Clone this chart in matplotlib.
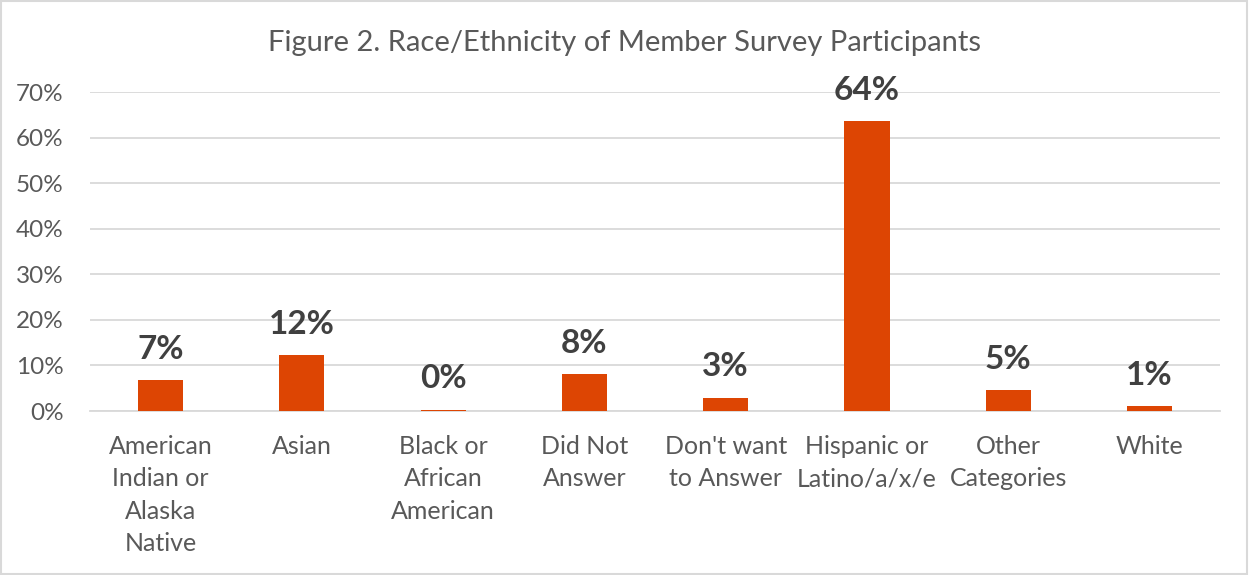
import matplotlib.pyplot as plt
import numpy as np
from matplotlib.patches import Rectangle

plt.rcParams['font.family'] = ['Lato', 'DejaVu Sans']

categories = ["American\nIndian or\nAlaska\nNative", "Asian", "Black or\nAfrican\nAmerican",
              "Did Not\nAnswer", "Don't want\nto Answer", "Hispanic or\nLatino/a/x/e",
              "Other\nCategories", "White"]
values = [0.068, 0.123, 0.003, 0.081, 0.029, 0.636, 0.046, 0.011]
labels = ["7%", "12%", "0%", "8%", "3%", "64%", "5%", "1%"]
yticks = [0, 0.1, 0.2, 0.3, 0.4, 0.5, 0.6, 0.7]

fig = plt.figure(figsize=(12.49, 5.75), dpi=100)
fig.patches.append(Rectangle((0.001, 0.002), 0.997, 0.996, transform=fig.transFigure,
                             fill=False, edgecolor="#d9d9d9", linewidth=1.5))
ax = fig.add_axes([0.072, 0.2852, 0.905, 0.5548])

x = np.arange(len(categories))
ax.bar(x, values, width=0.32, color="#dd4503", zorder=3)

for xi, v, lab in zip(x, values, labels):
    ax.text(xi, v + 0.036, lab, ha="center", va="bottom", fontsize=24,
            fontweight="bold", color="#404040")

ax.set_xlim(-0.5, len(categories) - 0.5)
ax.set_ylim(0, 0.7)
ax.set_yticks(yticks)
ax.set_yticklabels([f"{int(round(t*100))}%" for t in yticks], fontsize=17.5, color="#595959")
ax.set_xticks(x)
ax.set_xticklabels(categories, fontsize=18, color="#595959", linespacing=1.5, va="top")
ax.tick_params(length=0)
ax.tick_params(axis="x", pad=17)
ax.tick_params(axis="y", pad=19)
ax.grid(axis="y", color="#d9d9d9", linewidth=1.3, zorder=0)
for s in ["top", "right", "left"]:
    ax.spines[s].set_visible(False)
ax.spines["bottom"].set_color("#d9d9d9")
ax.spines["bottom"].set_linewidth(1.3)

fig.text(0.5, 0.925, "Figure 2. Race/Ethnicity of Member Survey Participants",
         ha="center", va="center", fontsize=21, color="#595959")

fig.savefig("out.png", dpi=100)
